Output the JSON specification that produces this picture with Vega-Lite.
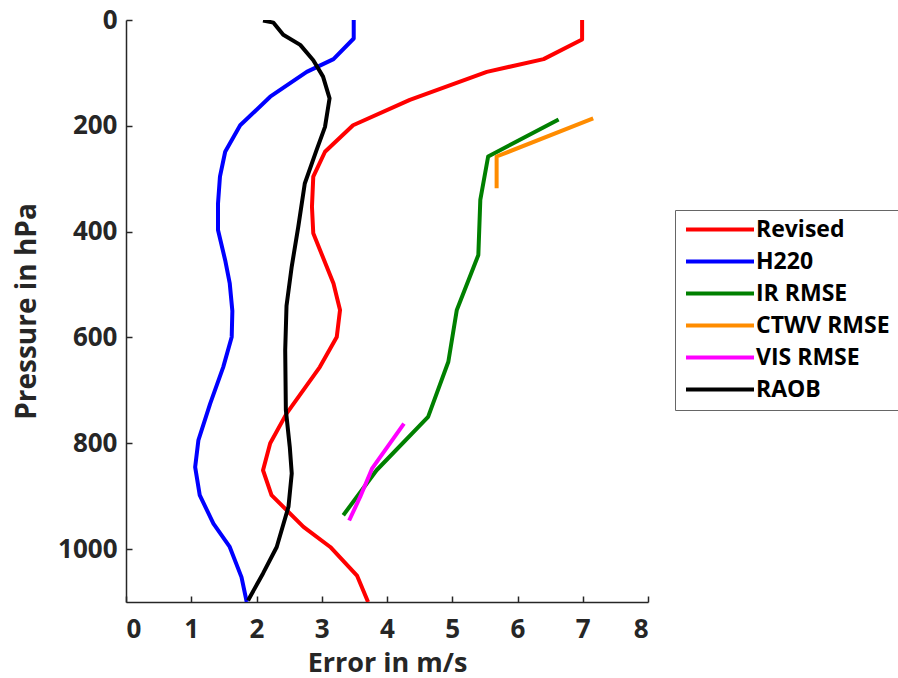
{
  "$schema": "https://vega.github.io/schema/vega-lite/v6.json",
  "width": 522,
  "height": 582,
  "autosize": {"type": "none"},
  "padding": {"left": 126, "top": 20, "right": 250, "bottom": 76},
  "background": "white",
  "config": {
    "view": {"stroke": null},
    "font": "Open Sans"
  },
  "data": {
    "values": [
      {"series": "Revised", "error": 6.99, "pressure": 0},
      {"series": "Revised", "error": 6.99, "pressure": 37},
      {"series": "Revised", "error": 6.40, "pressure": 74},
      {"series": "Revised", "error": 5.53, "pressure": 98},
      {"series": "Revised", "error": 4.35, "pressure": 151},
      {"series": "Revised", "error": 3.48, "pressure": 199},
      {"series": "Revised", "error": 3.05, "pressure": 249},
      {"series": "Revised", "error": 2.87, "pressure": 296},
      {"series": "Revised", "error": 2.85, "pressure": 353},
      {"series": "Revised", "error": 2.87, "pressure": 403},
      {"series": "Revised", "error": 3.18, "pressure": 498},
      {"series": "Revised", "error": 3.28, "pressure": 548},
      {"series": "Revised", "error": 3.23, "pressure": 599},
      {"series": "Revised", "error": 2.97, "pressure": 656},
      {"series": "Revised", "error": 2.46, "pressure": 744},
      {"series": "Revised", "error": 2.21, "pressure": 800},
      {"series": "Revised", "error": 2.10, "pressure": 851},
      {"series": "Revised", "error": 2.23, "pressure": 898},
      {"series": "Revised", "error": 2.72, "pressure": 958},
      {"series": "Revised", "error": 3.13, "pressure": 996},
      {"series": "Revised", "error": 3.54, "pressure": 1050},
      {"series": "Revised", "error": 3.71, "pressure": 1100},
      {"series": "H220", "error": 3.49, "pressure": 0},
      {"series": "H220", "error": 3.49, "pressure": 35},
      {"series": "H220", "error": 3.18, "pressure": 74},
      {"series": "H220", "error": 2.77, "pressure": 98},
      {"series": "H220", "error": 2.21, "pressure": 145},
      {"series": "H220", "error": 1.75, "pressure": 199},
      {"series": "H220", "error": 1.52, "pressure": 249},
      {"series": "H220", "error": 1.44, "pressure": 296},
      {"series": "H220", "error": 1.41, "pressure": 347},
      {"series": "H220", "error": 1.41, "pressure": 397},
      {"series": "H220", "error": 1.52, "pressure": 454},
      {"series": "H220", "error": 1.59, "pressure": 498},
      {"series": "H220", "error": 1.63, "pressure": 550},
      {"series": "H220", "error": 1.62, "pressure": 599},
      {"series": "H220", "error": 1.49, "pressure": 656},
      {"series": "H220", "error": 1.29, "pressure": 725},
      {"series": "H220", "error": 1.11, "pressure": 794},
      {"series": "H220", "error": 1.06, "pressure": 845},
      {"series": "H220", "error": 1.13, "pressure": 898},
      {"series": "H220", "error": 1.34, "pressure": 952},
      {"series": "H220", "error": 1.59, "pressure": 996},
      {"series": "H220", "error": 1.77, "pressure": 1053},
      {"series": "H220", "error": 1.85, "pressure": 1100},
      {"series": "IR RMSE", "error": 6.63, "pressure": 188},
      {"series": "IR RMSE", "error": 5.55, "pressure": 258},
      {"series": "IR RMSE", "error": 5.43, "pressure": 340},
      {"series": "IR RMSE", "error": 5.40, "pressure": 444},
      {"series": "IR RMSE", "error": 5.07, "pressure": 548},
      {"series": "IR RMSE", "error": 4.94, "pressure": 646},
      {"series": "IR RMSE", "error": 4.63, "pressure": 750},
      {"series": "IR RMSE", "error": 3.84, "pressure": 851},
      {"series": "IR RMSE", "error": 3.33, "pressure": 936},
      {"series": "CTWV RMSE", "error": 7.16, "pressure": 186},
      {"series": "CTWV RMSE", "error": 5.68, "pressure": 258},
      {"series": "CTWV RMSE", "error": 5.68, "pressure": 318},
      {"series": "VIS RMSE", "error": 4.26, "pressure": 763},
      {"series": "VIS RMSE", "error": 3.77, "pressure": 848},
      {"series": "VIS RMSE", "error": 3.59, "pressure": 901},
      {"series": "VIS RMSE", "error": 3.42, "pressure": 946},
      {"series": "RAOB", "error": 2.10, "pressure": 1},
      {"series": "RAOB", "error": 2.26, "pressure": 5},
      {"series": "RAOB", "error": 2.41, "pressure": 28},
      {"series": "RAOB", "error": 2.67, "pressure": 47},
      {"series": "RAOB", "error": 2.87, "pressure": 76},
      {"series": "RAOB", "error": 3.02, "pressure": 107},
      {"series": "RAOB", "error": 3.12, "pressure": 148},
      {"series": "RAOB", "error": 3.05, "pressure": 202},
      {"series": "RAOB", "error": 2.92, "pressure": 246},
      {"series": "RAOB", "error": 2.74, "pressure": 309},
      {"series": "RAOB", "error": 2.64, "pressure": 391},
      {"series": "RAOB", "error": 2.54, "pressure": 466},
      {"series": "RAOB", "error": 2.46, "pressure": 540},
      {"series": "RAOB", "error": 2.44, "pressure": 624},
      {"series": "RAOB", "error": 2.45, "pressure": 737},
      {"series": "RAOB", "error": 2.51, "pressure": 807},
      {"series": "RAOB", "error": 2.54, "pressure": 857},
      {"series": "RAOB", "error": 2.49, "pressure": 920},
      {"series": "RAOB", "error": 2.31, "pressure": 996},
      {"series": "RAOB", "error": 2.10, "pressure": 1046},
      {"series": "RAOB", "error": 1.87, "pressure": 1097}
    ]
  },
  "mark": {"type": "line", "strokeWidth": 4, "clip": true, "strokeJoin": "round"},
  "encoding": {
    "x": {
      "field": "error", "type": "quantitative",
      "scale": {"domain": [0, 8], "nice": false, "zero": false},
      "axis": {
        "title": "Error in m/s", "values": [0,1,2,3,4,5,6,7,8], "format": "d",
        "grid": false, "domainColor": "#262626", "domainWidth": 1.5, "tickColor": "#262626", "tickWidth": 1.5,
        "tickSize": -6, "labelPadding": 20,
        "labelFont": "Open Sans", "labelFontSize": 26, "labelFontWeight": "bold", "labelColor": "#262626",
        "titleFont": "Open Sans", "titleFontSize": 27, "titleFontWeight": "bold", "titleColor": "#262626",
        "titlePadding": 8
      }
    },
    "y": {
      "field": "pressure", "type": "quantitative",
      "scale": {"domain": [0, 1100], "reverse": true, "nice": false, "zero": false},
      "axis": {
        "title": "Pressure in hPa", "values": [0,200,400,600,800,1000], "format": "d",
        "grid": false, "domainColor": "#262626", "domainWidth": 1.5, "tickColor": "#262626", "tickWidth": 1.5,
        "tickSize": -6, "labelPadding": 15,
        "labelFont": "Open Sans", "labelFontSize": 26, "labelFontWeight": "bold", "labelColor": "#262626",
        "titleFont": "Open Sans", "titleFontSize": 28, "titleFontWeight": "bold", "titleColor": "#262626",
        "titlePadding": 16
      }
    },
    "color": {
      "field": "series", "type": "nominal",
      "scale": {
        "domain": ["Revised", "H220", "IR RMSE", "CTWV RMSE", "VIS RMSE", "RAOB"],
        "range": ["#ff0000", "#0000ff", "#008000", "#ff8c00", "#ff00ff", "#000000"]
      },
      "legend": {
        "title": null, "orient": "none", "legendX": 549, "legendY": 190,
        "symbolType": "M-1,0H7", "symbolSize": 289, "symbolStrokeWidth": 4,
        "labelFont": "Open Sans", "labelFontSize": 23, "labelFontWeight": "bold", "labelColor": "#000000",
        "labelOffset": 50, "rowPadding": 8,
        "strokeColor": "#666666", "padding": 8, "fillColor": "white", "labelLimit": 300
      }
    },
    "order": {"field": "pressure", "type": "quantitative"}
  }
}
